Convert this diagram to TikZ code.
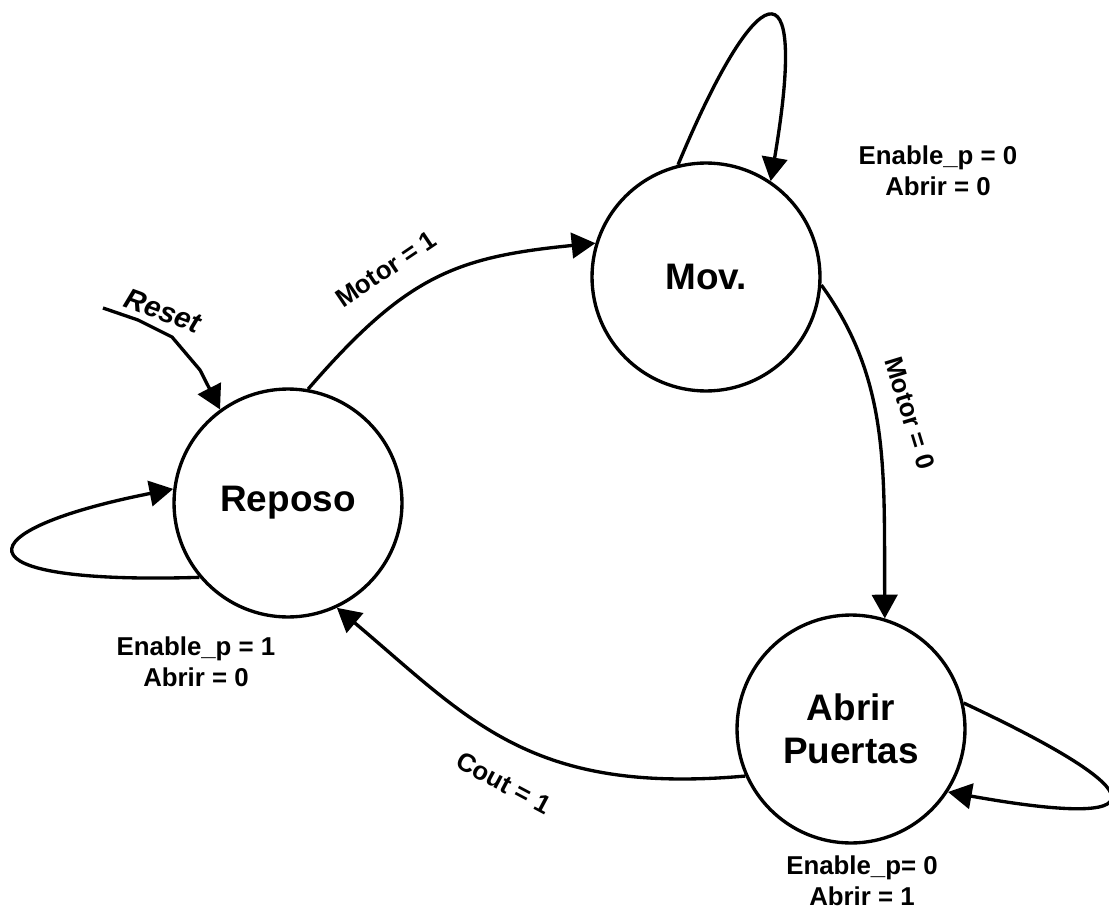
\documentclass[tikz,border=0pt]{standalone}
\usepackage{fontspec}
\setmainfont{Liberation Sans}
\usetikzlibrary{arrows.meta}

\begin{document}
\begin{tikzpicture}[x=0.02cm,y=-0.02cm,
  state/.style={circle,draw,line width=1.9pt,minimum size=4.56cm,inner sep=0pt,
                align=center,font=\fontsize{21}{24.5}\selectfont\bfseries},
  edge/.style={line width=1.9pt,-{Triangle[length=13.5pt,width=14.5pt]}},
  lbl/.style={font=\fontsize{14.7}{17.6}\selectfont\bfseries,align=center,inner sep=0pt},
]
\useasboundingbox (0,0) rectangle (1109,909);

% states
\node[state] (R) at (288,503) {Reposo};
\node[state] (M) at (706,277) {Mov.};
\node[state] (A) at (851,729) {Abrir\\Puertas};

% outputs of each state
\node[lbl] (oM) at (938,171) {Enable\_p = 0\\Abrir = 0};
\node[lbl] (oR) at (196,662) {Enable\_p = 1\\Abrir = 0};
\node[lbl] (oA) at (862,881) {Enable\_p= 0\\Abrir = 1};

% reset entry
\coordinate (rs) at (103,308);
\draw[edge] (rs) -- (138,320) -- (172,337) -- (200,370) -- (R.126.8);
\node[lbl,font=\fontsize{16.5}{18}\selectfont\bfseries\itshape,rotate=-20] (tR) at (163,311) {Reset};

% transitions
\draw[edge] (R.80) .. controls (406,276) and (455,257) .. (M.163.6);
\node[lbl,rotate=34] (t1) at (386,269) {Motor = 1};

\draw[edge] (M.-4) .. controls (890,380) and (884,470) .. (A.73.6);
\node[lbl,rotate=-73] (t2) at (910,413) {Motor = 0};

\draw[edge] (A.204) .. controls (530,795) and (470,720) .. (R.-65);
\node[lbl,rotate=-28] (t3) at (504,783) {Cout = 1};

% self loops
\draw[edge] (R.220) .. controls (-50,585) and (-35,530) .. (R.173.5);
\draw[edge] (M.104.4) .. controls (755,-20) and (810,-50) .. (M.56);
\draw[edge] (A.13) .. controls (1160,795) and (1160,830) .. (A.-33.7);
\end{tikzpicture}
\end{document}
